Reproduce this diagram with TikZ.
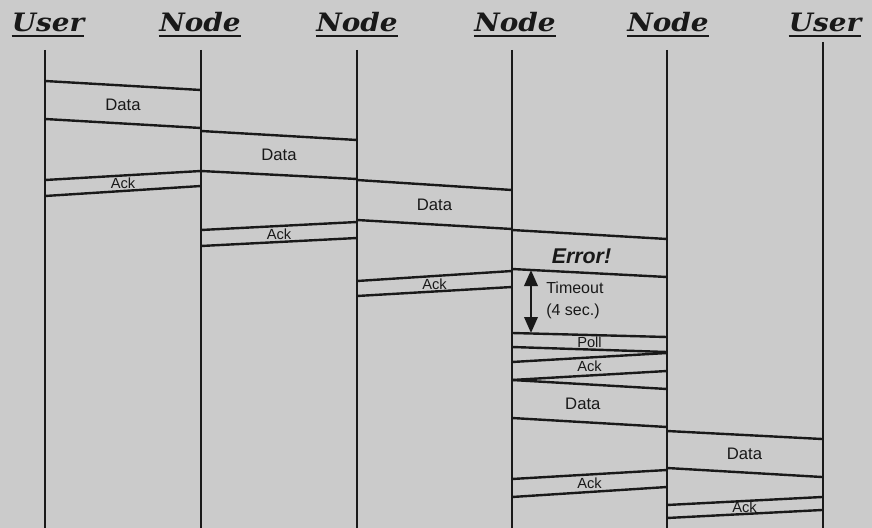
\documentclass[tikz,border=0pt]{standalone}
\usepackage{fontspec}
\usepackage{graphicx}
\setmainfont{Liberation Sans}
\newfontfamily\hdrfont{DejaVu Serif}
\usetikzlibrary{arrows.meta,calc}
\definecolor{bgc}{RGB}{203,203,203}
\definecolor{ink}{RGB}{25,25,25}
% #1 name, #2 label style, #3 xa, #4 ya top, #5 ya bottom, #6 xb, #7 yb top, #8 yb bottom, #9 text
\newcommand\msgband[9]{%
  \coordinate (#1at) at (#3,#4);
  \coordinate (#1ab) at (#3,#5);
  \coordinate (#1bt) at (#6,#7);
  \coordinate (#1bb) at (#6,#8);
  \draw[band] (#1at) -- (#1bt);
  \draw[band] (#1ab) -- (#1bb);
  \node[#2] (#1) at ($(#1at)!0.5!(#1bb)$) {#9};
}
\begin{document}
\begin{tikzpicture}[x=0.75pt,y=-0.75pt,
  life/.style={line width=1.9pt,draw=ink},
  band/.style={line width=1.8pt,draw=ink},
  hdr/.style={font=\hdrfont\bfseries\itshape\fontsize{19}{19}\selectfont,text=ink,inner sep=0pt,anchor=base},
  uline/.style={line width=1.5pt,draw=ink},
  lbl/.style={font=\fontsize{12.5}{12.5}\selectfont,text=ink,inner sep=0pt},
  acklbl/.style={font=\fontsize{11}{11}\selectfont,text=ink,inner sep=0pt},
  errlbl/.style={font=\bfseries\itshape\fontsize{16}{16}\selectfont,text=ink,inner sep=0pt},
  tarrow/.style={line width=1.9pt,draw=ink,{Triangle[length=12pt,width=10pt]}-{Triangle[length=12pt,width=10pt]}},
]
\fill[bgc] (0,0) rectangle (872,528);
\useasboundingbox (0,0) rectangle (872,528);

% headers
\node[hdr] (h0) at (48,32) {\scalebox{1.1}[1]{User}};
\node[hdr] (h1) at (200,32) {\scalebox{1.1}[1]{Node}};
\node[hdr] (h2) at (357,32) {\scalebox{1.1}[1]{Node}};
\node[hdr] (h3) at (515,32) {\scalebox{1.1}[1]{Node}};
\node[hdr] (h4) at (668,32) {\scalebox{1.1}[1]{Node}};
\node[hdr] (h5) at (825,32) {\scalebox{1.1}[1]{User}};
\foreach \h in {h0,h1,h2,h3,h4,h5}
  \draw[uline] ([yshift=-3pt]\h.base west) -- ([yshift=-3pt]\h.base east);

% lifelines
\coordinate (t0) at (45,50);  \coordinate (b0) at (45,528);
\coordinate (t1) at (201,50); \coordinate (b1) at (201,528);
\coordinate (t2) at (357,50); \coordinate (b2) at (357,528);
\coordinate (t3) at (512,50); \coordinate (b3) at (512,528);
\coordinate (t4) at (667,50); \coordinate (b4) at (667,528);
\coordinate (t5) at (823,42); \coordinate (b5) at (823,528);
\foreach \i in {0,...,5} \draw[life] (t\i) -- (b\i);

% messages
\msgband{m1}{lbl}{45}{81}{119}{201}{90}{128}{Data}
\msgband{m2}{lbl}{201}{131}{171}{357}{140}{179}{Data}
\msgband{m3}{lbl}{357}{180}{220}{512}{190}{229}{Data}
\msgband{a1}{acklbl}{45}{180}{196}{201}{171}{186}{Ack}
\msgband{a2}{acklbl}{201}{230}{246}{357}{222}{238}{Ack}
\msgband{a3}{acklbl}{357}{281}{296}{512}{271}{287}{Ack}
\msgband{e}{errlbl,xshift=-6pt,yshift=-2pt}{512}{230}{269}{667}{239}{277}{Error!}
\msgband{p}{acklbl}{512}{333}{347}{667}{337}{352}{Poll}
\msgband{a4}{acklbl}{512}{362}{380}{667}{353}{371}{Ack}
\msgband{d4}{lbl,xshift=-5pt}{512}{380}{418}{667}{389}{427}{Data}
\msgband{d5}{lbl}{667}{431}{468}{822}{439}{477}{Data}
\msgband{a5}{acklbl}{512}{479}{497}{667}{470}{487}{Ack}
\msgband{a6}{acklbl}{667}{505}{518}{822}{497}{510}{Ack}

% timeout
\coordinate (ta) at (531,270);
\coordinate (tb) at (531,333);
\draw[tarrow] (ta) -- (tb);
\node[font=\fontsize{12}{16.5}\selectfont,text=ink,align=left,anchor=west,inner sep=0pt] (tout) at (546,300) {Timeout\\(4 sec.)};
\end{tikzpicture}
\end{document}
